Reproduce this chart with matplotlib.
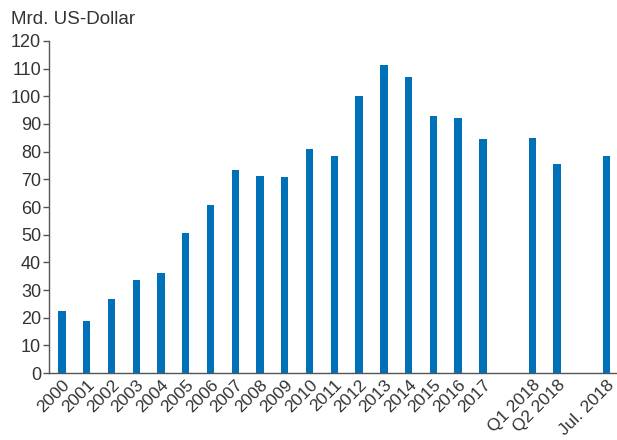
import matplotlib.pyplot as plt
import numpy as np

plt.rcParams['font.family'] = ['Liberation Sans', 'DejaVu Sans']

labels = ['2000', '2001', '2002', '2003', '2004', '2005', '2006', '2007', '2008',
          '2009', '2010', '2011', '2012', '2013', '2014', '2015', '2016', '2017',
          'Q1 2018', 'Q2 2018', 'Jul. 2018']
values = [22.4, 18.8, 26.7, 33.6, 36.0, 50.5, 60.8, 73.4, 71.1,
          70.7, 80.8, 78.5, 100.0, 111.2, 107.1, 93.0, 92.2, 84.4,
          85.0, 75.7, 78.5]
# gaps before Q1 2018 and before Jul. 2018
positions = list(range(18)) + [19, 20, 22]

text_color = '#333333'
bar_color = '#0070b8'

fig = plt.figure(figsize=(6.17, 4.4), dpi=100)
ax = fig.add_axes([0.08, 0.152, 0.92, 0.755])

ax.bar(positions, values, width=0.3, color=bar_color)

ax.set_xlim(-0.51, 22.42)
ax.set_ylim(0, 120)
ax.set_yticks(np.arange(0, 121, 10))
ax.set_xticks(positions)
ax.set_xticklabels(labels, rotation=45, ha='right', va='top', rotation_mode='anchor')

for side in ['top', 'right']:
	ax.spines[side].set_visible(False)
for side in ['left', 'bottom']:
	ax.spines[side].set_color('#555555')
	ax.spines[side].set_linewidth(1.0)

ax.tick_params(axis='y', direction='out', length=4, width=1, color='#555555',
               labelsize=13, labelcolor=text_color, pad=2)
ax.tick_params(axis='x', length=0, labelsize=12.5, labelcolor=text_color, pad=3)

fig.text(0.018, 0.955, 'Mrd. US-Dollar', fontsize=13.5, color=text_color, va='center', ha='left')

fig.savefig('out.png', dpi=100)
